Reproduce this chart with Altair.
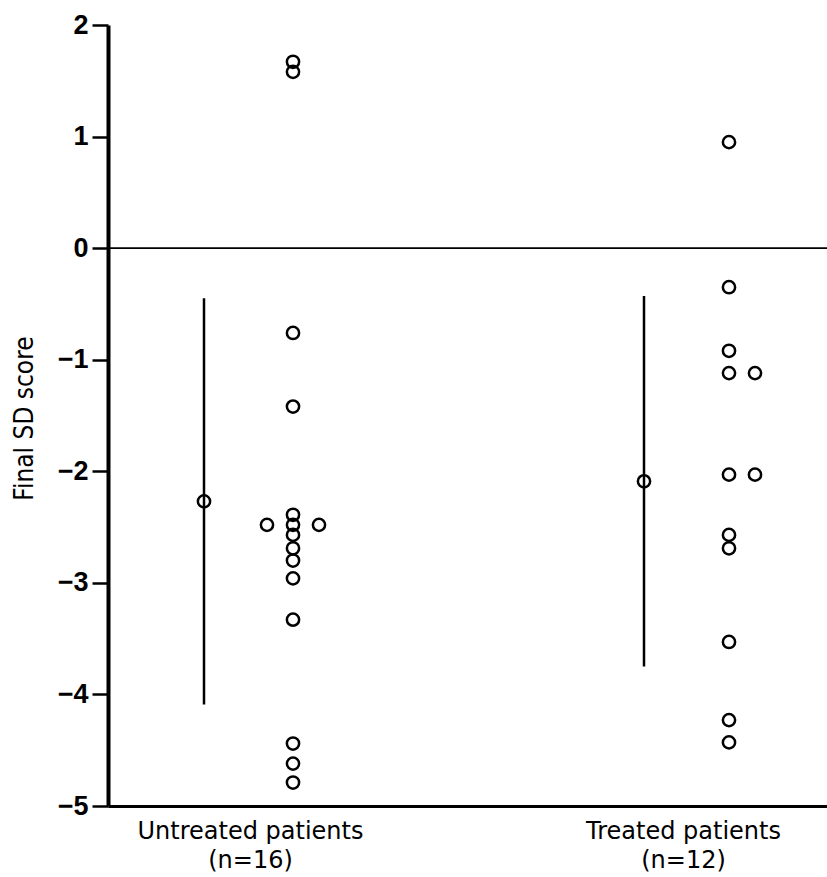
import altair as alt
import pandas as pd

# ---- data ----
groups = ["Untreated patients", "Treated patients"]
group_n = [16, 12]
untreated_scores = [1.67, 1.58, -0.76, -1.42, -2.39, -2.48, -2.48, -2.48,
                    -2.57, -2.69, -2.80, -2.96, -3.33, -4.44, -4.62, -4.79]
treated_scores = [0.95, -0.35, -0.92, -1.12, -1.12, -2.03, -2.03,
                  -2.57, -2.69, -3.53, -4.23, -4.43]
group_means = [-2.27, -2.09]
group_sds = [1.82, 1.66]
y_ticks = [-5, -4, -3, -2, -1, 0, 1, 2]

# ---- layout constants ----
W, H = 719, 781
mean_x = [96, 536]
pts_x = [185, 621]
label_x = [142, 575]
slot_gap = 26


def slots_for(values):
    out = []
    seen = {}
    counts = {v: values.count(v) for v in values}
    for v in values:
        k = seen.get(v, 0)
        seen[v] = k + 1
        c = counts[v]
        if c == 3:
            out.append([-1, 0, 1][k])
        else:
            out.append(k)
    return out


rows = []
for gi, scores in enumerate([untreated_scores, treated_scores]):
    for s, slot in zip(scores, slots_for(scores)):
        rows.append({"group": groups[gi], "score": s,
                     "xpos": pts_x[gi] + slot * slot_gap})
points = pd.DataFrame(rows)

summary = pd.DataFrame({
    "group": groups,
    "mean": group_means,
    "lo": [m - s for m, s in zip(group_means, group_sds)],
    "hi": [m + s for m, s in zip(group_means, group_sds)],
    "xpos": mean_x,
})

label_expr = " : ".join(
    [f"datum.value == {label_x[i]} ? ['{groups[i]}', '(n={group_n[i]})']" for i in range(len(groups))]
) + " : ''"

xscale = alt.Scale(domain=[0, W], nice=False, zero=False)
yscale = alt.Scale(domain=[-5, 2], nice=False, zero=False)

x_axis = alt.Axis(values=label_x, labelExpr=label_expr, title=None, ticks=False,
                  grid=False, domainWidth=3, domainColor="black",
                  labelFontSize=24, labelFont="DejaVu Sans", labelColor="black",
                  labelPadding=13, labelLineHeight=29, labelBaseline="top",
                  labelLimit=0)
y_axis = alt.Axis(values=y_ticks, format="d", title="Final SD score", grid=False,
                  tickSize=16, tickWidth=2.5, tickColor="black",
                  domainWidth=4, domainColor="black",
                  labelFontSize=27, labelFontWeight="bold", labelFont="Liberation Sans",
                  labelColor="black", labelPadding=4,
                  titleFont="Liberation Sans Narrow, DejaVu Sans Condensed, sans-serif",
                  titleFontWeight="normal", titleFontSize=26, titleColor="black",
                  titleX=-84, titleY=393, titleAngle=270, titleAlign="center",
                  titleBaseline="middle")

base_x = alt.X("xpos:Q", scale=xscale, axis=x_axis)

zero_line = alt.Chart(summary).mark_rule(color="black", strokeWidth=1.5).encode(
    y=alt.datum(0, scale=yscale)
)

sd_lines = alt.Chart(summary).mark_rule(color="black", strokeWidth=2.5).encode(
    x=base_x,
    y=alt.Y("lo:Q", scale=yscale, axis=y_axis),
    y2="hi:Q",
)

mean_pts = alt.Chart(summary).mark_point(shape="circle", filled=False, size=150,
                                         strokeWidth=2.5, color="black", opacity=1).encode(
    x=base_x,
    y=alt.Y("mean:Q", scale=yscale, axis=y_axis),
)

dots = alt.Chart(points).mark_point(shape="circle", filled=False, size=150,
                                    strokeWidth=2.5, color="black", opacity=1).encode(
    x=base_x,
    y=alt.Y("score:Q", scale=yscale, axis=y_axis),
)

chart = alt.layer(zero_line, sd_lines, mean_pts, dots).properties(
    width=W, height=H,
    autosize=alt.AutoSizeParams(type="none"),
    padding={"left": 108, "top": 25, "right": 0, "bottom": 71},
    background="white",
).configure_view(stroke=None)

chart.save("out.html", embed_options={"renderer": "svg", "actions": False})
